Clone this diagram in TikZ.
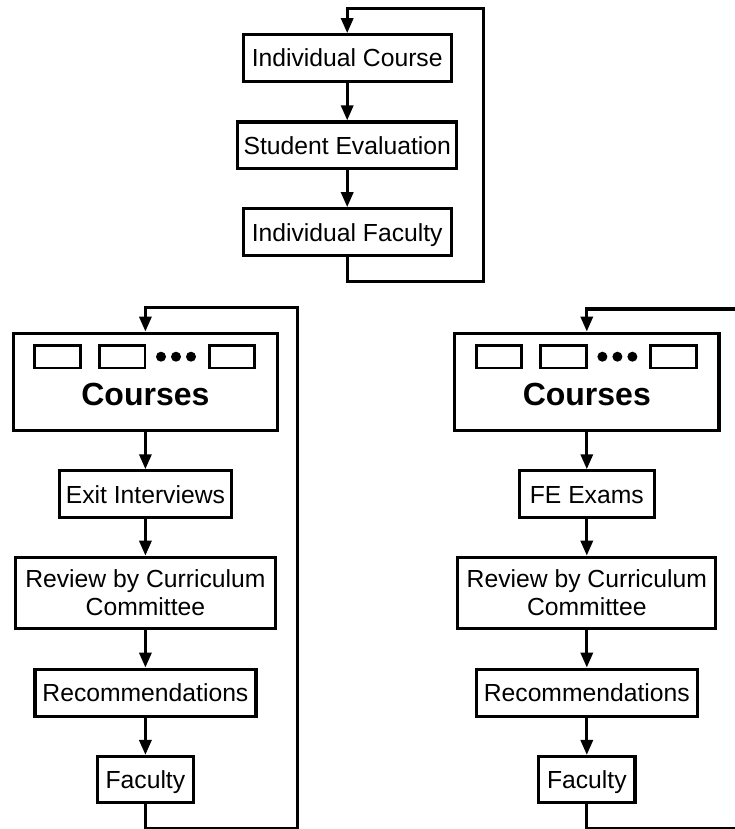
\documentclass[tikz,border=0pt]{standalone}
\usepackage{fontspec}
\setmainfont{Liberation Sans}
\usetikzlibrary{arrows.meta}
\tikzset{
  base/.style={draw, line width=3.2pt, inner sep=0pt, align=center,
    font=\fontsize{24.7pt}{28.5pt}\selectfont},
  blk/.style={base, text height=17.7pt, text depth=0pt},
  slot/.style={draw, line width=2.8pt, minimum width=45.5pt, minimum height=22.5pt, inner sep=0pt},
  dot/.style={circle, fill, inner sep=0pt, minimum size=10pt},
  big/.style={font=\fontsize{32pt}{36pt}\selectfont\bfseries, inner sep=0pt, anchor=base},
  flow/.style={line width=3.2pt, -{Triangle[length=15pt,width=12pt]}}
}
\begin{document}
\begin{tikzpicture}[x=1pt,y=-1pt]
  \clip (0,0) rectangle (735,829);
  % top loop
  \node[blk, minimum width=208pt, minimum height=46.5pt] (ic) at (347.2,58) {Individual Course};
  \node[blk, minimum width=219pt, minimum height=46.5pt] (se) at (347.2,145.3) {Student Evaluation};
  \node[blk, minimum width=208pt, minimum height=47pt] (if) at (347.2,232.3) {Individual Faculty};
  \coordinate (t1) at (347.2,8.3);
  \coordinate (t2) at (483.3,8.3);
  \coordinate (t3) at (483.3,281.7);
  \coordinate (t4) at (347.2,281.7);
  \draw[flow] (ic) -- (se);
  \draw[flow] (se) -- (if);
  \draw[flow] (if.south) -- (t4) -- (t3) -- (t2) -- (t1) -- (ic.north);

  % left column
  \node[base, minimum width=264.6pt, minimum height=97.6pt] (cl) at (145.4,382) {};
  \node[slot] (cl1) at (57.5,356.7) {};
  \node[slot] (cl2) at (122.2,356.7) {};
  \node[slot] (cl3) at (232,356.7) {};
  \node[dot] (cld1) at (161,356.7) {};
  \node[dot] (cld2) at (176,356.7) {};
  \node[dot] (cld3) at (191,356.7) {};
  \node[big] (clt) at (145.4,405) {Courses};
  \node[blk, minimum width=171.4pt, minimum height=46.7pt] (ei) at (145.4,494.2) {Exit Interviews};
  \node[base, minimum width=259.7pt, minimum height=71.3pt] (rv) at (145.4,592.9) {Review by Curriculum\\Committee};
  \node[blk, minimum width=221pt, minimum height=47pt] (rc) at (145.4,692.7) {Recommendations};
  \node[blk, minimum width=96.3pt, minimum height=46.3pt] (fa) at (145.4,779.7) {Faculty};
  \coordinate (l1) at (145.4,307.3);
  \coordinate (l2) at (297.7,307.3);
  \coordinate (l3) at (297.7,828.3);
  \coordinate (l4) at (145.4,828.3);
  \draw[flow] (cl) -- (ei);
  \draw[flow] (ei) -- (rv);
  \draw[flow] (rv) -- (rc);
  \draw[flow] (rc) -- (fa);
  \draw[flow] (fa.south) -- (l4) -- (l3) -- (l2) -- (l1) -- (cl.north);

  % right column
  \node[base, minimum width=264.3pt, minimum height=97.6pt] (cr) at (586.8,382) {};
  \node[slot] (cr1) at (498.9,356.7) {};
  \node[slot] (cr2) at (563.6,356.7) {};
  \node[slot] (cr3) at (673.4,356.7) {};
  \node[dot] (crd1) at (602.4,356.7) {};
  \node[dot] (crd2) at (617.4,356.7) {};
  \node[dot] (crd3) at (632.4,356.7) {};
  \node[big] (crt) at (586.8,405) {Courses};
  \node[blk, minimum width=134.7pt, minimum height=46.7pt] (fe) at (586.8,494.2) {FE Exams};
  \node[base, minimum width=258pt, minimum height=71.3pt] (rv2) at (586.8,592.9) {Review by Curriculum\\Committee};
  \node[blk, minimum width=221pt, minimum height=47pt] (rc2) at (586.8,692.7) {Recommendations};
  \node[blk, minimum width=96.3pt, minimum height=46.3pt] (fa2) at (586.8,779.7) {Faculty};
  \coordinate (r1) at (586.8,309);
  \coordinate (r2) at (739.1,309);
  \coordinate (r3) at (739.1,828.3);
  \coordinate (r4) at (586.8,828.3);
  \draw[flow] (cr) -- (fe);
  \draw[flow] (fe) -- (rv2);
  \draw[flow] (rv2) -- (rc2);
  \draw[flow] (rc2) -- (fa2);
  \draw[flow] (fa2.south) -- (r4) -- (r3) -- (r2) -- (r1) -- (cr.north);
\end{tikzpicture}
\end{document}
